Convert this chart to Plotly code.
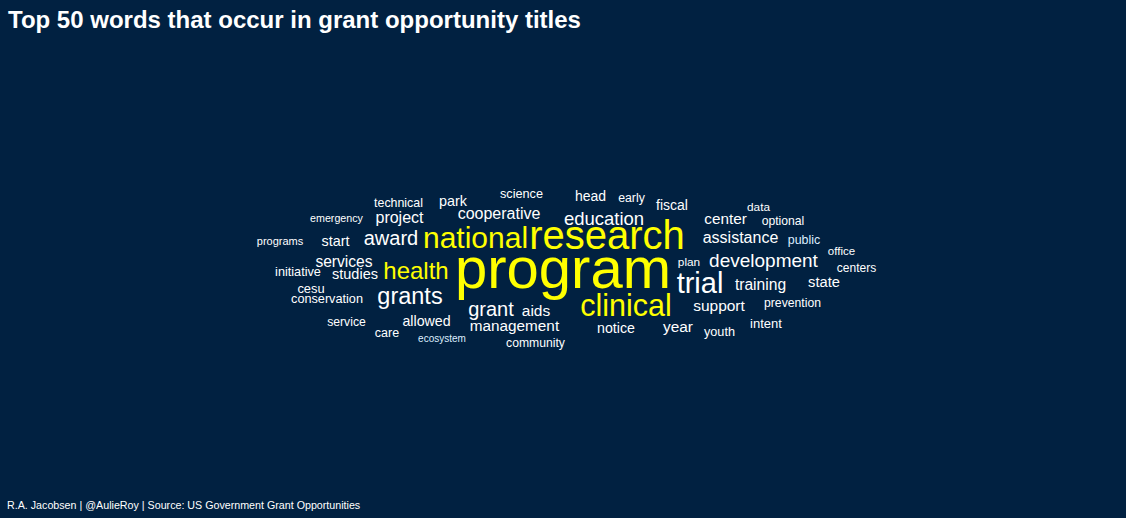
import plotly.graph_objects as go

# Word cloud data: word, font size (relative frequency), layout position (centre, px), colour
words = ["program", "research", "national", "clinical", "trial", "health", "grants",
         "education", "development", "award", "grant", "assistance", "cooperative",
         "project", "center", "training", "support", "management", "services", "aids",
         "year", "state", "studies", "start", "park", "allowed", "notice", "head",
         "fiscal", "intent", "cesu", "technical", "science", "initiative", "conservation",
         "youth", "care", "public", "early", "service", "community", "optional",
         "prevention", "centers", "data", "plan", "office", "programs", "emergency",
         "ecosystem"]

sizes = [58, 40, 30, 30.5, 29, 24, 23.5,
         18.5, 19, 20, 20, 16, 16,
         16, 15.3, 15.6, 15.5, 15.3, 15.6, 15.5,
         15.4, 14.7, 14.5, 14.4, 14.4, 14.2, 14.2, 14,
         14, 13, 12.9, 12.4, 12.7, 12.7, 12.7,
         12.7, 12.5, 12.4, 12.3, 12.2, 12.2, 12.2,
         12.2, 12, 11.8, 11.8, 11.5, 11, 10.7,
         10]

pos_x = [563, 607, 475.5, 626, 700, 416, 410,
         604, 763.5, 391, 491, 740.5, 499,
         399.5, 725.5, 760.5, 719, 514.5, 344, 536,
         678, 824, 355, 335.5, 453, 426.5, 616, 590.5,
         672, 766, 311, 398.5, 521.5, 298, 327,
         719.5, 387, 804, 631.5, 346.5, 535.5, 783,
         792.5, 856.5, 758.5, 689, 841.5, 280, 336.5,
         442]

pos_y = [273.4, 238.5, 240, 307.9, 285.3, 273.2, 298.3,
         220.3, 262.3, 240, 311, 238.5, 214.8,
         218.5, 219.9, 285.8, 306.9, 326.9, 262.8, 311.9,
         327.9, 283.8, 275.1, 242.2, 202.2, 322.8, 329.8, 197.9,
         206.2, 325.1, 289.4, 203.6, 194.5, 272.5, 300.2,
         332.5, 333.5, 240.6, 199.2, 322.5, 343.5, 221.5,
         304.2, 268.6, 207.7, 262.7, 251.7, 241.9, 219.6,
         339.7]

highlight = {"program", "research", "national", "clinical", "health"}
light_blue = {"public", "ecosystem"}

colors = []
for w in words:
    if w in highlight:
        colors.append("#FFFF00")
    elif w in light_blue:
        colors.append("#DDEEFF")
    else:
        colors.append("#FFFFFF")

BG = "#012141"
W, H = 1126, 518
FONT = "Liberation Sans, Arial, sans-serif"

fig = go.Figure()
fig.add_trace(go.Scatter(
    x=pos_x, y=pos_y, text=words, mode="text",
    textposition="middle center",
    textfont=dict(family=FONT, size=sizes, color=colors),
    hovertemplate="%{text}<extra></extra>",
    cliponaxis=False,
    showlegend=False,
))

fig.update_layout(
    width=W, height=H,
    paper_bgcolor=BG, plot_bgcolor=BG,
    margin=dict(l=0, r=0, t=0, b=0),
    xaxis=dict(range=[0, W], visible=False, fixedrange=True),
    yaxis=dict(range=[H, 0], visible=False, fixedrange=True),
    annotations=[
        dict(text="<b>Top 50 words that occur in grant opportunity titles</b>",
             xref="paper", yref="paper", x=6 / W, y=1 - 4 / H,
             xanchor="left", yanchor="top", showarrow=False,
             font=dict(family=FONT, size=24, color="#FFFFFF")),
        dict(text="R.A. Jacobsen | @AulieRoy | Source: US Government Grant Opportunities",
             xref="paper", yref="paper", x=5 / W, y=1 - 497 / H,
             xanchor="left", yanchor="top", showarrow=False,
             font=dict(family=FONT, size=10.7, color="#FFFFFF")),
    ],
)

fig.write_html("out.html")
